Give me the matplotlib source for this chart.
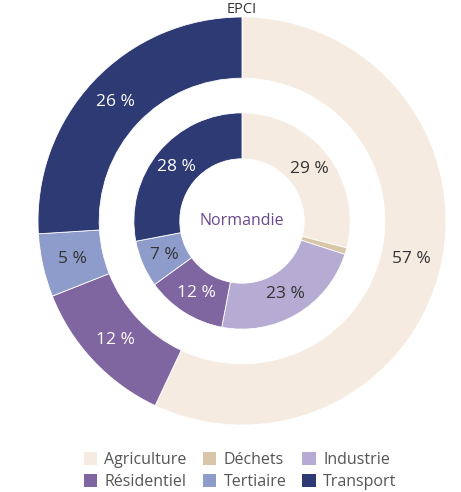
import matplotlib
matplotlib.use("Agg")
import matplotlib.pyplot as plt
from matplotlib.patches import Patch

categories = ["Agriculture", "Déchets", "Industrie", "Résidentiel", "Tertiaire", "Transport"]
colors = ["#f6ebe1", "#d9c6a8", "#b5abd3", "#7f66a1", "#8e9ccb", "#2d3a73"]
outer_values = [57, 0, 0, 12, 5, 26]      # EPCI
inner_values = [29, 1, 23, 12, 7, 28]     # Normandie
outer_text_colors = ["#333333", "#333333", "#333333", "white", "#333333", "white"]
inner_text_colors = ["#333333", "#333333", "#333333", "white", "#333333", "white"]
title = "EPCI"
center_label = "Normandie"

plt.rcParams['font.family'] = ['Open Sans', 'DejaVu Sans']

W, H = 461, 492
fig = plt.figure(figsize=(W / 100, H / 100), dpi=100)
cx, cy, R = 242, 221, 204
ax = fig.add_axes([(cx - R) / W, (H - cy - R) / H, 2 * R / W, 2 * R / H])

def fmt(p):
    return f"{p:.0f} %" if p >= 3 else ""

w_out, t_out, a_out = ax.pie(outer_values, colors=colors, startangle=90, counterclock=False,
                             radius=1.0, wedgeprops=dict(width=0.30, edgecolor="white", linewidth=0.6),
                             autopct=fmt, pctdistance=0.85, textprops=dict(fontsize=12.5))
w_in, t_in, a_in = ax.pie(inner_values, colors=colors, startangle=90, counterclock=False,
                          radius=0.53, wedgeprops=dict(width=0.225, edgecolor="white", linewidth=0.6),
                          autopct=fmt, pctdistance=0.787, textprops=dict(fontsize=12.5))
for t, c in zip(a_out, outer_text_colors):
    t.set_color(c)
for t, c in zip(a_in, inner_text_colors):
    t.set_color(c)

ax.text(0, 0, center_label, ha="center", va="center", fontsize=11.5, color="#6a4a8c")
ax.set_xlim(-1, 1)
ax.set_ylim(-1, 1)
ax.set_aspect("equal")
ax.axis("off")

fig.text(cx / W, 1 - 2 / H, title, ha="center", va="top", fontsize=10.5, color="#333333")

handles = [Patch(facecolor=c, edgecolor="none") for c in colors]
order = [0, 3, 1, 4, 2, 5]
leg = fig.legend([handles[i] for i in order], [categories[i] for i in order], ncol=3,
                 loc="center", bbox_to_anchor=(240 / W, 1 - 471 / H), frameon=False,
                 fontsize=11.5, handlelength=0.85, handleheight=0.85, handletextpad=0.45,
                 columnspacing=1.0, labelspacing=0.4, borderaxespad=0)
for t in leg.get_texts():
    t.set_color("#555555")

fig.savefig("out.png", dpi=100)
